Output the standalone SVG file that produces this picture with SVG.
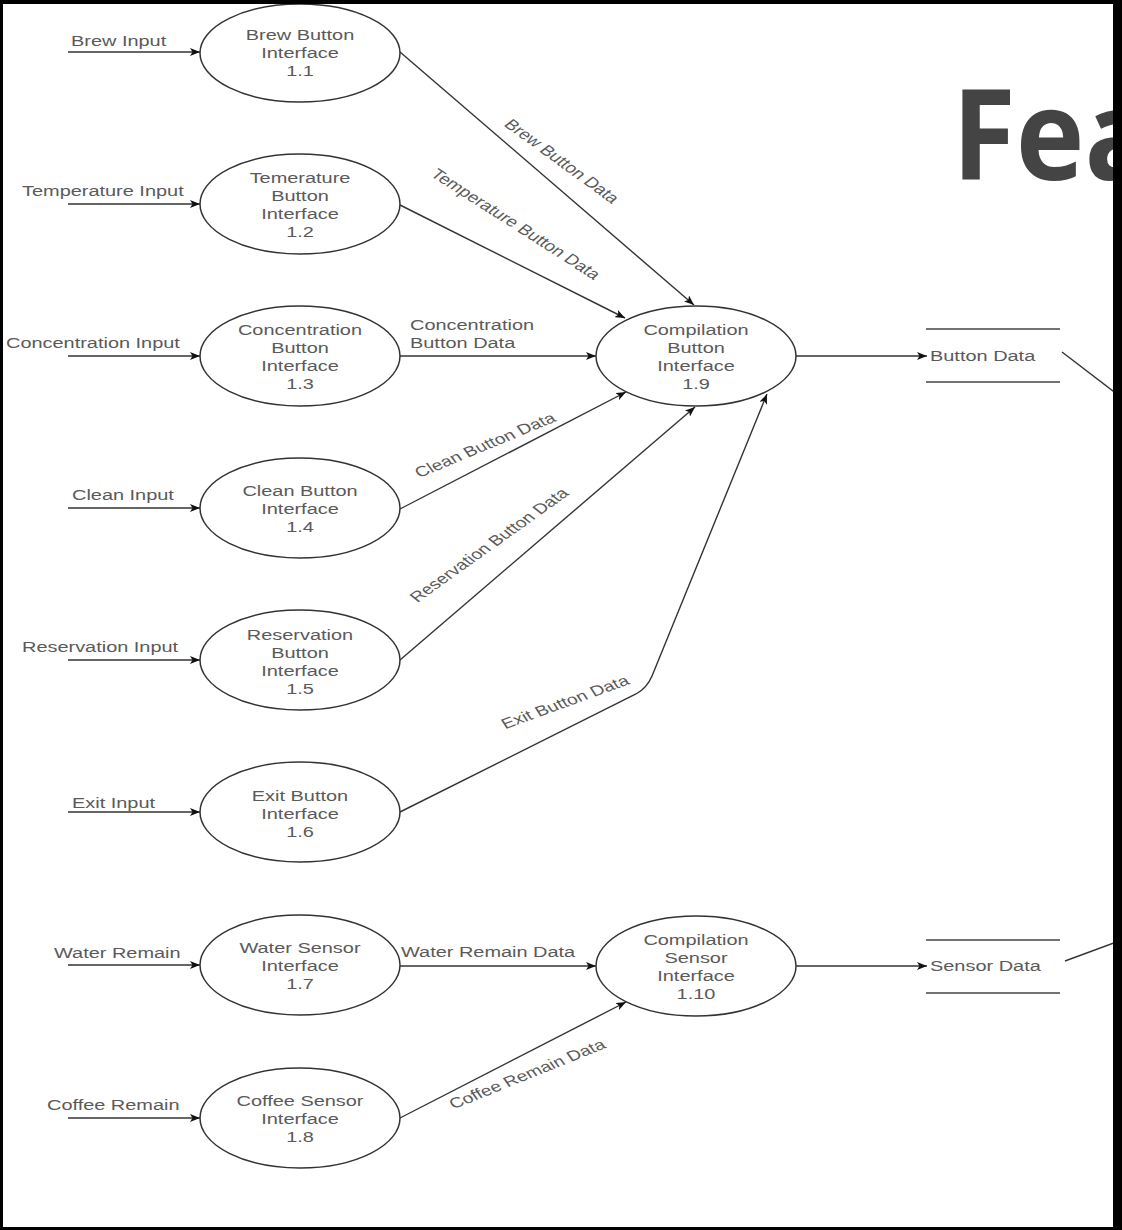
<svg xmlns="http://www.w3.org/2000/svg" width="1122" height="1230" viewBox="0 0 1122 1230">
<defs>
<style>
.e{fill:#fff;stroke:#333;stroke-width:1.5}
.l{fill:none;stroke:#333;stroke-width:1.4}
.t{font-family:"Liberation Sans",Arial,sans-serif;font-size:15px;fill:#5a5a5a}
.m{text-anchor:middle}
.r{font-family:"Liberation Sans",Arial,sans-serif;font-size:14.5px;fill:#5a5a5a;text-anchor:middle}
.s{fill:none;stroke:#444;stroke-width:1.5}
</style>
<marker id="a" viewBox="0 0 10 8" refX="10" refY="4" markerWidth="10" markerHeight="8" markerUnits="userSpaceOnUse" orient="auto">
<path d="M0,0 L10,4 L0,8 L2.5,4 Z" fill="#111"/>
</marker>
</defs>
<rect x="0" y="0" width="1122" height="1230" fill="#fff"/>
<text transform="translate(952,180) scale(0.93,1)" font-family="'Open Sans','Noto Sans',sans-serif" font-weight="700" font-size="125" fill="#444">Fea</text>

<g id="connectors">
<line class="l" x1="68" y1="52" x2="200" y2="52" marker-end="url(#a)"/>
<line class="l" x1="68" y1="204" x2="200" y2="204" marker-end="url(#a)"/>
<line class="l" x1="68" y1="356" x2="200" y2="356" marker-end="url(#a)"/>
<line class="l" x1="68" y1="508" x2="200" y2="508" marker-end="url(#a)"/>
<line class="l" x1="68" y1="660" x2="200" y2="660" marker-end="url(#a)"/>
<line class="l" x1="68" y1="812" x2="200" y2="812" marker-end="url(#a)"/>
<line class="l" x1="68" y1="965" x2="200" y2="965" marker-end="url(#a)"/>
<line class="l" x1="68" y1="1118" x2="200" y2="1118" marker-end="url(#a)"/>
<line class="l" x1="400" y1="52" x2="694" y2="305" marker-end="url(#a)"/>
<line class="l" x1="400" y1="205" x2="625" y2="318" marker-end="url(#a)"/>
<line class="l" x1="400" y1="356" x2="596" y2="356" marker-end="url(#a)"/>
<line class="l" x1="400" y1="509" x2="626" y2="392" marker-end="url(#a)"/>
<line class="l" x1="400" y1="660" x2="695" y2="407" marker-end="url(#a)"/>
<path class="l" d="M400,812 L636,694 Q647,688 652,676 L767,394" marker-end="url(#a)"/>
<line class="l" x1="400" y1="966" x2="596" y2="966" marker-end="url(#a)"/>
<line class="l" x1="400" y1="1118" x2="626" y2="1002" marker-end="url(#a)"/>
<line class="l" x1="796" y1="356" x2="927" y2="356" marker-end="url(#a)"/>
<line class="l" x1="796" y1="966" x2="927" y2="966" marker-end="url(#a)"/>
<line class="l" x1="1062" y1="352" x2="1122" y2="398"/>
<line class="l" x1="1065" y1="961" x2="1122" y2="940"/>
<text class="r" transform="translate(562,161) scale(1.33,1) rotate(44)" dy="5">Brew Button Data</text>
<text class="r" transform="translate(516,224) scale(1.33,1) rotate(40.3)" dy="5">Temperature Button Data</text>
<text class="t" transform="translate(410,330) scale(1.33,1)">Concentration</text>
<text class="t" transform="translate(410,348) scale(1.33,1)">Button Data</text>
<text class="r" transform="translate(485,445) scale(1.33,1) rotate(-28.9)" dy="5">Clean Button Data</text>
<text class="r" transform="translate(489,545) scale(1.33,1) rotate(-43.5)" dy="5">Reservation Button Data</text>
<text class="r" transform="translate(565,702) scale(1.33,1) rotate(-25.8)" dy="5">Exit Button Data</text>
<text class="t" transform="translate(401,957) scale(1.33,1)">Water Remain Data</text>
<text class="r" transform="translate(527,1074) scale(1.33,1) rotate(-28.2)" dy="5">Coffee Remain Data</text>
</g>

<g id="labels-in">
<text class="t" transform="translate(71,46) scale(1.33,1)">Brew Input</text>
<text class="t" transform="translate(22,196) scale(1.33,1)">Temperature Input</text>
<text class="t" transform="translate(6,348) scale(1.33,1)">Concentration Input</text>
<text class="t" transform="translate(72,500) scale(1.33,1)">Clean Input</text>
<text class="t" transform="translate(22,652) scale(1.33,1)">Reservation Input</text>
<text class="t" transform="translate(72,808) scale(1.33,1)">Exit Input</text>
<text class="t" transform="translate(54,958) scale(1.33,1)">Water Remain</text>
<text class="t" transform="translate(47,1110) scale(1.33,1)">Coffee Remain</text>
</g>

<g id="n1_1">
<ellipse class="e" cx="300" cy="53" rx="100" ry="49"/>
<text class="t m" transform="translate(300,40) scale(1.33,1)">Brew Button</text>
<text class="t m" transform="translate(300,58) scale(1.33,1)">Interface</text>
<text class="t m" transform="translate(300,76) scale(1.33,1)">1.1</text>
</g>
<g id="n1_2">
<ellipse class="e" cx="300" cy="204" rx="100" ry="50"/>
<text class="t m" transform="translate(300,183) scale(1.33,1)">Temerature</text>
<text class="t m" transform="translate(300,201) scale(1.33,1)">Button</text>
<text class="t m" transform="translate(300,219) scale(1.33,1)">Interface</text>
<text class="t m" transform="translate(300,237) scale(1.33,1)">1.2</text>
</g>
<g id="n1_3">
<ellipse class="e" cx="300" cy="356" rx="100" ry="50"/>
<text class="t m" transform="translate(300,335) scale(1.33,1)">Concentration</text>
<text class="t m" transform="translate(300,353) scale(1.33,1)">Button</text>
<text class="t m" transform="translate(300,371) scale(1.33,1)">Interface</text>
<text class="t m" transform="translate(300,389) scale(1.33,1)">1.3</text>
</g>
<g id="n1_4">
<ellipse class="e" cx="300" cy="508" rx="100" ry="50"/>
<text class="t m" transform="translate(300,496) scale(1.33,1)">Clean Button</text>
<text class="t m" transform="translate(300,514) scale(1.33,1)">Interface</text>
<text class="t m" transform="translate(300,532) scale(1.33,1)">1.4</text>
</g>
<g id="n1_5">
<ellipse class="e" cx="300" cy="660" rx="100" ry="50"/>
<text class="t m" transform="translate(300,640) scale(1.33,1)">Reservation</text>
<text class="t m" transform="translate(300,658) scale(1.33,1)">Button</text>
<text class="t m" transform="translate(300,676) scale(1.33,1)">Interface</text>
<text class="t m" transform="translate(300,694) scale(1.33,1)">1.5</text>
</g>
<g id="n1_6">
<ellipse class="e" cx="300" cy="812" rx="100" ry="50"/>
<text class="t m" transform="translate(300,801) scale(1.33,1)">Exit Button</text>
<text class="t m" transform="translate(300,819) scale(1.33,1)">Interface</text>
<text class="t m" transform="translate(300,837) scale(1.33,1)">1.6</text>
</g>
<g id="n1_7">
<ellipse class="e" cx="300" cy="965" rx="100" ry="50"/>
<text class="t m" transform="translate(300,953) scale(1.33,1)">Water Sensor</text>
<text class="t m" transform="translate(300,971) scale(1.33,1)">Interface</text>
<text class="t m" transform="translate(300,989) scale(1.33,1)">1.7</text>
</g>
<g id="n1_8">
<ellipse class="e" cx="300" cy="1118" rx="100" ry="50"/>
<text class="t m" transform="translate(300,1106) scale(1.33,1)">Coffee Sensor</text>
<text class="t m" transform="translate(300,1124) scale(1.33,1)">Interface</text>
<text class="t m" transform="translate(300,1142) scale(1.33,1)">1.8</text>
</g>
<g id="n1_9">
<ellipse class="e" cx="696" cy="356" rx="100" ry="50"/>
<text class="t m" transform="translate(696,335) scale(1.33,1)">Compilation</text>
<text class="t m" transform="translate(696,353) scale(1.33,1)">Button</text>
<text class="t m" transform="translate(696,371) scale(1.33,1)">Interface</text>
<text class="t m" transform="translate(696,389) scale(1.33,1)">1.9</text>
</g>
<g id="n1_10">
<ellipse class="e" cx="696" cy="966" rx="100" ry="50"/>
<text class="t m" transform="translate(696,945) scale(1.33,1)">Compilation</text>
<text class="t m" transform="translate(696,963) scale(1.33,1)">Sensor</text>
<text class="t m" transform="translate(696,981) scale(1.33,1)">Interface</text>
<text class="t m" transform="translate(696,999) scale(1.33,1)">1.10</text>
</g>
<g id="store_button">
<line class="s" x1="926" y1="329" x2="1060" y2="329"/>
<line class="s" x1="926" y1="382" x2="1060" y2="382"/>
<text class="t" transform="translate(930,361) scale(1.33,1)">Button Data</text>
</g>
<g id="store_sensor">
<line class="s" x1="926" y1="940" x2="1060" y2="940"/>
<line class="s" x1="926" y1="993" x2="1060" y2="993"/>
<text class="t" transform="translate(930,971) scale(1.33,1)">Sensor Data</text>
</g>

<g id="frame" fill="#000">
<rect x="0" y="0" width="1122" height="4"/>
<rect x="0" y="0" width="3" height="1230"/>
<rect x="1113" y="0" width="9" height="1230"/>
<rect x="0" y="1227" width="1122" height="3"/>
</g>
</svg>
